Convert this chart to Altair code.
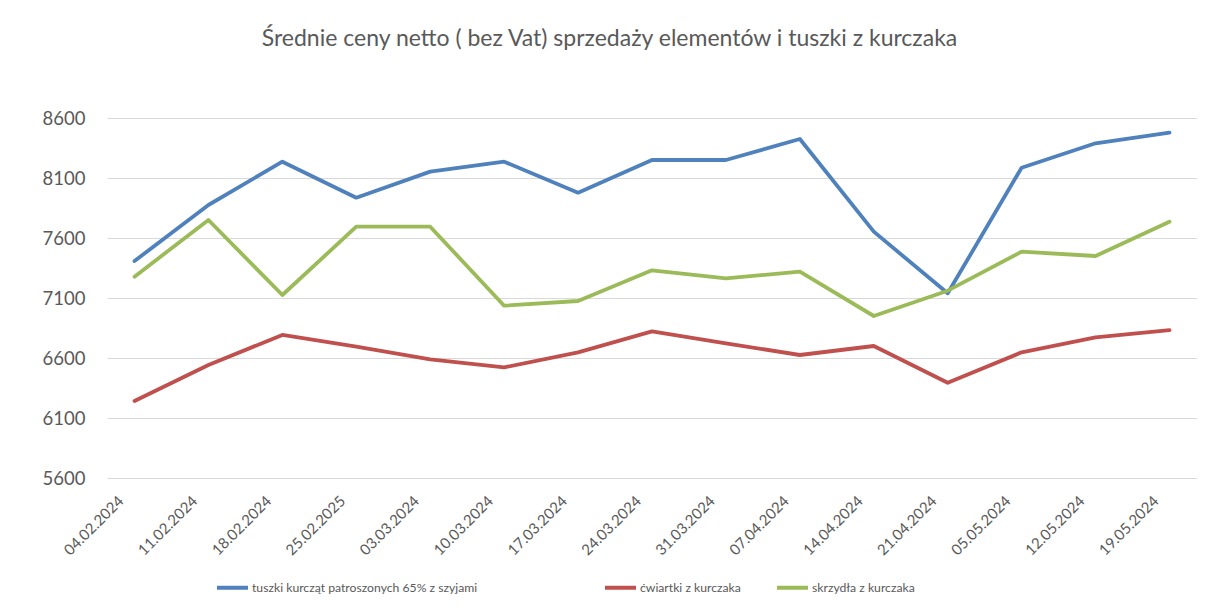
import altair as alt
import pandas as pd

dates = ["04.02.2024", "11.02.2024", "18.02.2024", "25.02.2025", "03.03.2024",
         "10.03.2024", "17.03.2024", "24.03.2024", "31.03.2024", "07.04.2024",
         "14.04.2024", "21.04.2024", "05.05.2024", "12.05.2024", "19.05.2024"]

series_names = ["tuszki kurcząt patroszonych 65% z szyjami",
                "ćwiartki z kurczaka",
                "skrzydła z kurczaka"]

tuszki = [7408, 7875, 8236, 7936, 8153, 8236, 7978, 8250, 8250, 8425,
          7653, 7139, 8186, 8389, 8478]
cwiartki = [6242, 6542, 6792, 6694, 6589, 6522, 6647, 6822, 6722, 6625,
            6700, 6394, 6647, 6772, 6833]
skrzydla = [7278, 7750, 7125, 7694, 7694, 7036, 7075, 7331, 7264, 7319,
            6950, 7161, 7486, 7450, 7736]

colors = ["#4F81BD", "#C0504D", "#9BBB59"]
y_ticks = [5600, 6100, 6600, 7100, 7600, 8100, 8600]

title_text = "Średnie ceny netto ( bez Vat) sprzedaży elementów i tuszki z kurczaka"

rows = []
for name, vals in zip(series_names, [tuszki, cwiartki, skrzydla]):
    for i, (d, v) in enumerate(zip(dates, vals)):
        rows.append({"data": d, "seria": name, "cena": v, "order": i})
df = pd.DataFrame(rows)

FONT = "Lato"
GREY = "#595959"
GRID = "#D9D9D9"

first = series_names[0]
pad = "\u2003" * 10 + "\u200b"
label_expr = f"datum.label == '{first}' ? datum.label + '{pad}' : datum.label"

lines = alt.Chart(df).mark_line(strokeWidth=3.8, strokeCap="round", strokeJoin="round").encode(
    x=alt.X("data:O", sort=dates,
            scale=alt.Scale(type="point", padding=0.372),
            axis=alt.Axis(title=None, labelAngle=-45, labelAlign="right", labelBaseline="middle",
                          labelFont=FONT, labelFontSize=15, labelColor=GREY,
                          labelPadding=20, labelOffset=-14, ticks=False, domain=False,
                          grid=False)),
    y=alt.Y("cena:Q", scale=alt.Scale(domain=[5600, 8600], zero=False, nice=False),
            axis=alt.Axis(title=None, values=y_ticks, labelFont=FONT, labelFontSize=18.5,
                          labelColor=GREY, labelPadding=22, ticks=False, domain=False,
                          grid=True, gridColor=GRID, gridWidth=1.2, format="d")),
    color=alt.Color("seria:N", sort=series_names,
                    scale=alt.Scale(domain=series_names, range=colors),
                    legend=alt.Legend(title=None, orient="none", legendX=108, legendY=452,
                                      direction="horizontal", symbolType="stroke",
                                      symbolSize=961, symbolStrokeWidth=4,
                                      labelFont=FONT, labelFontSize=12.2, labelColor=GREY,
                                      labelOffset=2, columnPadding=28, labelLimit=600,
                                      labelExpr=label_expr)),
    order="order:Q",
)

title = alt.Chart(alt.Data(values=[{"t": title_text}])).mark_text(
    font=FONT, fontSize=23, color=GREY, align="center", baseline="alphabetic"
).encode(
    text="t:N", x=alt.value(502.5), y=alt.value(-72)
)

chart = alt.layer(title, lines).properties(
    width=1090, height=360,
    autosize=alt.AutoSizeParams(type="none"),
    padding={"left": 99, "top": 110, "right": 0, "bottom": 120},
).configure_view(strokeWidth=0)

chart.save("out.html", embed_options={"renderer": "svg", "actions": False})
